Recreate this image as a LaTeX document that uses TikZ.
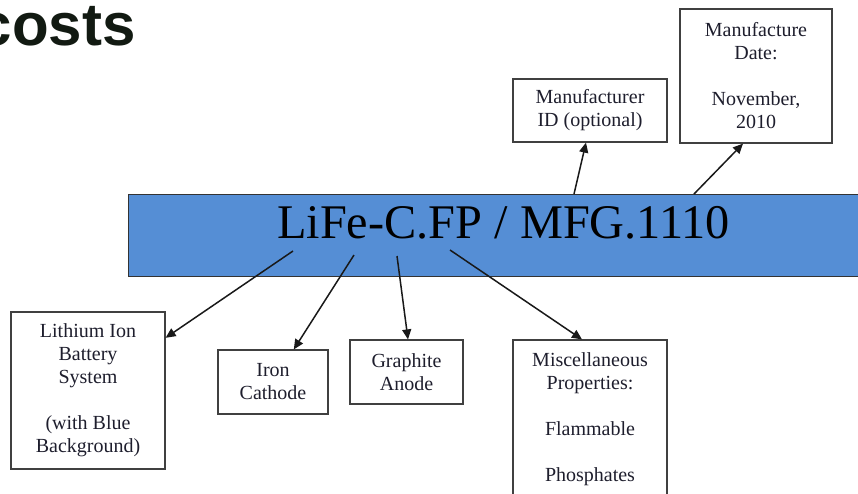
\documentclass[tikz,border=0pt]{standalone}
\usepackage{fontspec}
\setmainfont{Liberation Serif}
\newfontfamily\headfont{Liberation Sans}
\usetikzlibrary{arrows.meta}
\definecolor{barblue}{RGB}{85,142,213}
\definecolor{headink}{RGB}{18,26,18}
\definecolor{boxink}{RGB}{30,30,45}
\begin{document}
\begin{tikzpicture}[x=1pt,y=-1pt,
 box/.style={draw=black!75, line width=1.2pt, fill=white, align=center, inner sep=0pt,
   font=\fontsize{20}{23}\selectfont, text=boxink},
 arr/.style={draw=black!90, line width=1.5pt, -{Triangle[length=10pt,width=9pt]}}]
\useasboundingbox (0,0) rectangle (858,493);
\node[font=\headfont\bfseries\fontsize{60}{60}\selectfont, text=headink, anchor=base east] (head) at (139,45) {costs};
\node[draw=black!80, line width=1pt, fill=barblue, minimum width=750pt, minimum height=82pt,
  anchor=north west, inner sep=0pt] (bar) at (128,194) {};
\node[font=\fontsize{48.3}{49}\selectfont, anchor=base west, inner sep=0pt] (code) at (277,238) {LiFe-C.FP / MFG.1110};

\node[box, minimum width=154pt, minimum height=63pt] (id) at (590,110.5) {Manufacturer\\ID (optional)};
\node[box, minimum width=152pt, minimum height=134pt] (date) at (756,76) {Manufacture\\Date:\\[23pt]November,\\2010};
\node[box, minimum width=154pt, minimum height=157pt] (lith) at (88,390.5) {Lithium Ion\\Battery\\System\\[23pt](with Blue\\Background)};
\node[box, minimum width=110pt, minimum height=64pt] (iron) at (273,382) {Iron\\Cathode};
\node[box, minimum width=113pt, minimum height=64pt] (graph) at (406.5,372) {Graphite\\Anode};
\node[box, minimum width=154pt, minimum height=159pt] (misc) at (590,419.5) {Miscellaneous\\Properties:\\[23pt]Flammable\\[23pt]Phosphates};

\coordinate (b1) at (293,251);
\coordinate (b2) at (354,255);
\coordinate (b3) at (397,256);
\coordinate (b4) at (450,250);
\coordinate (t1) at (574,194);
\coordinate (t2) at (694,194);

\draw[arr] (b1) -- (lith);
\draw[arr] (b2) -- (iron);
\draw[arr] (b3) -- ([xshift=1.5pt]graph.north);
\draw[arr] (b4) -- ([xshift=-8pt]misc.north);
\draw[arr] (t1) -- ([xshift=-4pt]id.south);
\draw[arr] (t2) -- ([xshift=-13pt]date.south);
\end{tikzpicture}
\end{document}
